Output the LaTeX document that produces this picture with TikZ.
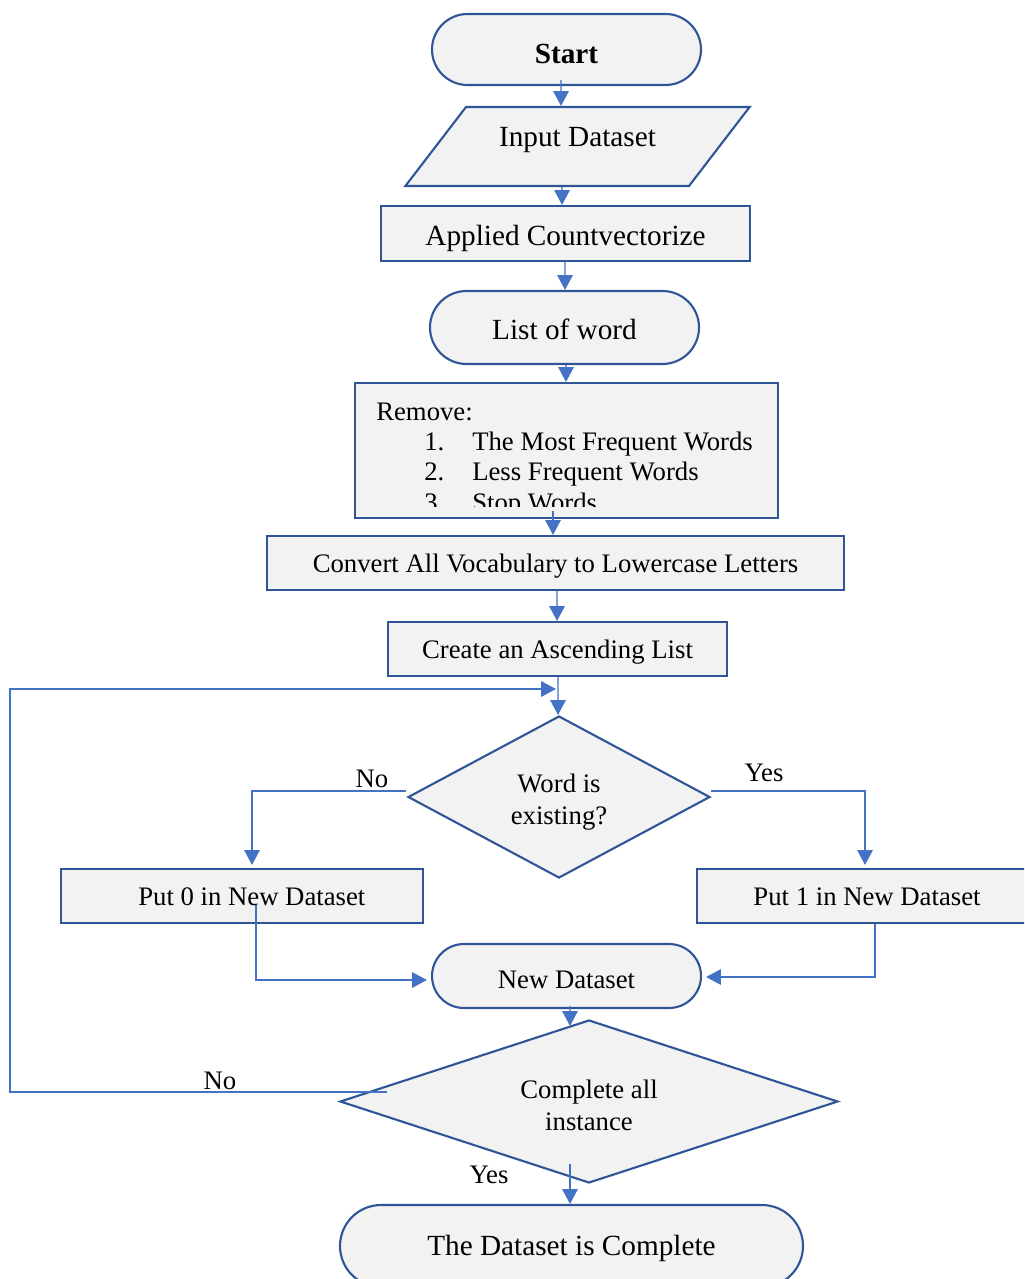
\documentclass[tikz,border=0pt]{standalone}
\usepackage{fontspec}
\setmainfont{Liberation Serif}
\usetikzlibrary{shapes.geometric,shapes.misc,arrows.meta,calc}
\definecolor{bord}{HTML}{2F5597}
\definecolor{conn}{HTML}{4472C4}
\definecolor{fillg}{HTML}{F2F2F2}
\begin{document}
\begin{tikzpicture}[x=0.025cm,y=-0.025cm,
  font=\fontsize{19}{23}\selectfont,
  big/.style={font=\fontsize{20.8}{25}\selectfont},
  box/.style={draw=bord,fill=fillg,line width=1.5pt,inner sep=0pt,align=center},
  one/.style={text height=17.5pt,text depth=0pt},
  low/.style={text height=13.3pt,text depth=0pt},
  sz/.style 2 args={minimum width=#1*0.025cm,minimum height=#2*0.025cm},
  term/.style={box,one,rounded rectangle},
  rbox/.style={box,one,rectangle},
  ln/.style={draw=conn,line width=0.8pt},
  arr/.style={ln,-{Triangle[length=10.5pt,width=11pt]}},
  lbl/.style={inner sep=0pt},
  itm/.style={anchor=base west,inner sep=0pt}
]
\useasboundingbox (0,0) rectangle (1024,1279);
\clip (0,0) rectangle (1024,1279);

% nodes
\node[term,sz={269}{71},text height=20pt,font=\fontsize{20.8}{25}\selectfont\bfseries] (start) at (566.5,49.5) {Start};
\node[box,big,trapezium,trapezium left angle=41.3,trapezium right angle=138.7,trapezium stretches=true,sz={345}{79}] (input) at (577.5,146.5) {\raisebox{13pt}{Input Dataset}};
\node[rbox,big,sz={369}{55}] (apply) at (565.5,233.5) {Applied Countvectorize};
\node[term,big,sz={269}{73}] (list) at (564.5,327.5) {List of word};
\node[rbox,sz={423}{135}] (remove) at (566.5,450.5) {};
\begin{scope}
\clip (356,384) rectangle (777,506);
\node[itm] (rm0) at (376,420) {Remove:};
\node[itm] (n1) at (424,450) {1.};
\node[itm] (t1) at (472,450) {The Most Frequent Words};
\node[itm] (n2) at (424,480) {2.};
\node[itm] (t2) at (472,480) {Less Frequent Words};
\node[itm] (n3) at (424,511) {3.};
\node[itm] (t3) at (472,511) {Stop Words};
\end{scope}
\node[rbox,low,sz={577}{54}] (convert) at (555.5,563) {Convert All Vocabulary to Lowercase Letters};
\node[rbox,low,sz={339}{54}] (create) at (557.5,649) {Create an Ascending List};
\node[box,diamond,aspect=2,sz={302}{162}] (d1) at (559,797) {\raisebox{-8pt}[0pt][0pt]{\begin{tabular}{@{}c@{}}Word is\\existing?\end{tabular}}};
\node[rbox,low,sz={362}{54}] (put0) at (242,896) {\hspace*{14pt}Put 0 in New Dataset};
\node[rbox,low,sz={340}{54}] (put1) at (867,896) {Put 1 in New Dataset};
\node[term,sz={269}{64}] (newds) at (566.5,976) {New Dataset};
\node[box,diamond,aspect=3,sz={498}{163}] (d2) at (589,1101.5) {\raisebox{-9pt}[0pt][0pt]{\begin{tabular}{@{}c@{}}Complete all\\instance\end{tabular}}};
\node[term,big,sz={463}{82}] (final) at (571.5,1246) {\raisebox{2pt}{The Dataset is Complete}};

\coordinate (loopin) at (556,689);

% labels
\node[lbl] (no1) at (372,779) {No};
\node[lbl] (yes1) at (764,773) {Yes};
\node[lbl] (no2) at (220,1081) {No};
\node[lbl] (yes2) at (489,1175) {Yes};

% connectors
\draw[arr] ($(start.south)+(-5.5,-6)$) -- ($(input.north)+(-16.5,0)$);
\draw[arr] ($(input.south)+(-15.5,0)$) -- ($(apply.north)+(-3.5,0)$);
\draw[arr] ($(apply.south)+(-0.5,0)$) -- ($(list.north)+(0.5,0)$);
\draw[arr] ($(list.south)+(1.5,0)$) -- ($(remove.north)+(-0.5,0)$);
\draw[arr] ($(remove.south)+(-13.5,-8)$) -- ($(convert.north)+(-2.5,0)$);
\draw[arr] ($(convert.south)+(1.5,0)$) -- ($(create.north)+(-0.5,0)$);
\draw[arr] ($(create.south)+(0.5,0)$) -- ($(d1.north)+(-1,0)$);
\draw[arr] ($(d2.west)+(48,-9.5)$) -- ++(-377,0) |- (loopin);
\draw[arr] ($(d1.west)+(-1,-6)$) -| ($(put0.north)+(10,-3)$);
\draw[arr] ($(d1.east)+(0,-6)$) -| ($(put1.north)+(-2,-3)$);
\draw[arr] ($(put0.center)+(14,9)$) |- ($(newds.west)+(-4,4)$);
\draw[arr] ($(put1.south)+(8,0)$) |- ($(newds.east)+(4,1)$);
\draw[arr] ($(newds.south)+(3.5,-3)$) -- ($(d2.north)+(-19,7)$);
\draw[arr] ($(d2.south)+(-19,-20)$) -- ($(final.north)+(-1.5,0)$);
\end{tikzpicture}
\end{document}
